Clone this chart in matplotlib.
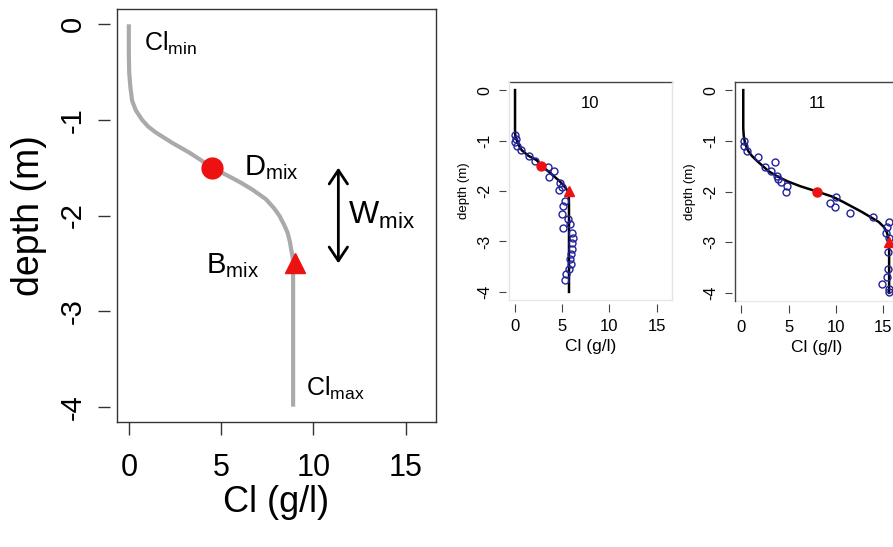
import matplotlib.pyplot as plt

plt.rcParams['font.family'] = ['Liberation Sans', 'DejaVu Sans']
plt.rcParams['mathtext.fontset'] = 'custom'
plt.rcParams['mathtext.rm'] = 'Liberation Sans'
plt.rcParams['axes.unicode_minus'] = False

# ---- schematic profile (left panel) ----
main_depth = [0, -0.3, -0.5, -0.65, -0.8, -0.9, -1.0, -1.07, -1.13, -1.24, -1.34, -1.42, -1.5,
              -1.59, -1.66, -1.73, -1.83, -1.92, -2.0, -2.1, -2.18, -2.27, -2.36, -2.44, -2.5, -3.0, -4.0]
main_cl = [0.0, 0.0, 0.02, 0.08, 0.18, 0.38, 0.72, 1.05, 1.45, 2.35, 3.26, 3.9, 4.5,
           5.43, 6.1, 6.7, 7.43, 7.85, 8.15, 8.42, 8.6, 8.72, 8.8, 8.88, 8.9, 8.9, 8.9]
dmix_main = (4.5, -1.5)
bmix_main = (9.0, -2.5)

# ---- profile 10 ----
fit10_depth = [0, -0.8, -0.9, -0.95, -1.0, -1.1, -1.19, -1.3, -1.39, -1.52, -1.62, -1.72, -1.8,
               -1.88, -1.95, -2.0, -2.1, -2.3, -4.0]
fit10_cl = [0.0, 0.0, 0.03, 0.08, 0.2, 0.42, 0.7, 1.4, 2.3, 2.9, 3.6, 4.2, 4.7,
            5.1, 5.4, 5.6, 5.7, 5.72, 5.72]
obs10_depth = [-0.89, -0.96, -1.03, -1.11, -1.19, -1.31, -1.4, -1.52, -1.6, -1.73, -1.84, -1.92,
               -1.98, -2.2, -2.3, -2.45, -2.55, -2.65, -2.74, -2.84, -2.94, -3.04, -3.14, -3.24,
               -3.34, -3.44, -3.54, -3.65, -3.76]
obs10_cl = [0.0, 0.07, 0.0, 0.18, 0.63, 1.52, 2.1, 3.5, 4.16, 3.6, 4.76, 4.94,
            4.7, 5.3, 5.1, 4.94, 5.64, 5.8, 5.1, 6.0, 6.1, 6.0, 6.0, 5.93,
            5.8, 5.9, 5.75, 5.4, 5.3]
dmix10 = (2.8, -1.5)
bmix10 = (5.7, -2.0)

# ---- profile 11 ----
fit11_depth = [0, -0.75, -0.9, -1.0, -1.1, -1.2, -1.3, -1.4, -1.5, -1.6, -1.7, -1.8, -1.9, -2.0,
               -2.1, -2.2, -2.3, -2.4, -2.5, -2.6, -2.7, -2.8, -2.9, -3.0, -4.0]
fit11_cl = [0.23, 0.23, 0.28, 0.37, 0.52, 0.75, 1.15, 1.7, 2.3, 2.9, 3.8, 4.9, 6.3, 8.0,
            9.6, 10.7, 11.7, 12.7, 13.6, 14.5, 15.05, 15.35, 15.5, 15.6, 15.6]
obs11_depth = [-1.0, -1.1, -1.2, -1.31, -1.41, -1.52, -1.6, -1.7, -1.75, -1.82, -1.9, -2.01,
               -2.11, -2.22, -2.31, -2.42, -2.5, -2.61, -2.71, -2.81, -2.91, -3.2, -3.52,
               -3.69, -3.82, -3.92, -3.99]
obs11_cl = [0.3, 0.3, 0.65, 1.8, 3.55, 2.47, 3.2, 3.8, 3.9, 4.25, 4.85, 4.75,
            10.0, 9.33, 9.9, 11.5, 13.85, 15.6, 15.35, 15.25, 15.6, 15.45, 15.45,
            15.35, 14.85, 15.55, 15.6]
dmix11 = (8.0, -2.0)
bmix11 = (15.6, -3.0)

xticks = [0, 5, 10, 15]
yticks = [0, -1, -2, -3, -4]
xlim = (-0.64, 16.64)
ylim = (-4.16, 0.16)

W, H = 893, 547
fig = plt.figure(figsize=(W / 100, H / 100), dpi=100)


def box(ax, colors, lw=1.0):
    sides = {'bottom': ([0, 1], [0, 0]), 'top': ([0, 1], [1, 1]),
             'left': ([0, 0], [0, 1]), 'right': ([1, 1], [0, 1])}
    for side, (xs, ys) in sides.items():
        ax.spines[side].set_visible(False)
        c = colors.get(side)
        if c:
            ax.plot(xs, ys, color=c, lw=lw, transform=ax.transAxes, clip_on=False)


# ---------------- left panel ----------------
ax = fig.add_axes([117 / W, (H - 422) / H, 319 / W, 413 / H])
ax.plot(main_cl, main_depth, color='#aaaaaa', lw=3, solid_capstyle='butt')
ax.plot(*dmix_main, 'o', color='#ee1111', ms=15)
ax.plot(*bmix_main, '^', color='#ee1111', ms=14)
ax.annotate('', xy=(11.35, -1.5), xytext=(11.35, -2.5),
            arrowprops=dict(arrowstyle='<->, head_length=0.45, head_width=0.3', lw=2,
                            color='black', mutation_scale=22, shrinkA=0, shrinkB=0))
ax.text(0.82, -0.28, r'Cl$_{\rm min}$', fontsize=18, va='baseline')
ax.text(6.25, -1.58, r'D$_{\rm mix}$', fontsize=21, va='baseline')
ax.text(11.85, -2.08, r'W$_{\rm mix}$', fontsize=23, va='baseline')
ax.text(4.2, -2.6, r'B$_{\rm mix}$', fontsize=21, va='baseline')
ax.text(9.62, -3.89, r'Cl$_{\rm max}$', fontsize=18, va='baseline')
ax.set_xlim(*xlim)
ax.set_ylim(*ylim)
ax.set_xticks(xticks)
ax.set_yticks(yticks)
ax.spines['left'].set_position(('outward', 5))
box(ax, {'bottom': '#333333', 'top': '#333333', 'left': '#333333', 'right': '#333333'})
ax.tick_params(axis='x', labelsize=22, length=9, width=1, pad=13, color='#333333')
ax.tick_params(axis='y', labelsize=21, length=9, width=1, pad=8, color='#333333', labelrotation=90)
for lab in ax.get_yticklabels():
    lab.set_va('center')
ax.set_xlabel('Cl (g/l)', fontsize=26, labelpad=2)
ax.set_ylabel('depth (m)', fontsize=27, labelpad=8)


# ---------------- small panels ----------------
def small_panel(rect, fit_cl, fit_depth, obs_cl, obs_depth, dmix, bmix, title, colors):
    a = fig.add_axes(rect)
    a.plot(fit_cl, fit_depth, color='black', lw=1.8)
    a.plot(obs_cl, obs_depth, 'o', mfc='none', mec='#22229a', ms=5, mew=1)
    a.plot(*dmix, 'o', color='#ee1111', ms=6.5)
    a.plot(*bmix, '^', color='#ee1111', ms=6.5)
    a.text(8.0, -0.26, title, fontsize=12, ha='center', va='center')
    a.set_xlim(*xlim)
    a.set_ylim(*ylim)
    a.set_xticks(xticks)
    a.set_yticks(yticks)
    a.spines['left'].set_position(('outward', 2))
    a.spines['bottom'].set_position(('outward', 3))
    box(a, colors, lw=1.0)
    a.tick_params(axis='x', labelsize=12, length=6, width=0.8, pad=5, color='#444444')
    a.tick_params(axis='y', labelsize=11.5, length=5, width=0.8, pad=5, color='#444444',
                  labelrotation=90)
    for lab in a.get_yticklabels():
        lab.set_va('center')
    a.set_xlabel('Cl (g/l)', fontsize=12.5, labelpad=3)
    a.set_ylabel('depth (m)', fontsize=9.5, labelpad=5)
    return a


small_panel([509 / W, (H - 300) / H, 163 / W, 218 / H], fit10_cl, fit10_depth,
            obs10_cl, obs10_depth, dmix10, bmix10, '10',
            {'top': '#444444', 'left': '#e4e4e4', 'right': '#e4e4e4', 'bottom': '#e8e8e8'})
small_panel([735 / W, (H - 301) / H, 164 / W, 219 / H], fit11_cl, fit11_depth,
            obs11_cl, obs11_depth, dmix11, bmix11, '11',
            {'top': '#444444', 'left': '#444444', 'right': '#444444', 'bottom': '#e8e8e8'})

fig.savefig('out.png', dpi=100)
